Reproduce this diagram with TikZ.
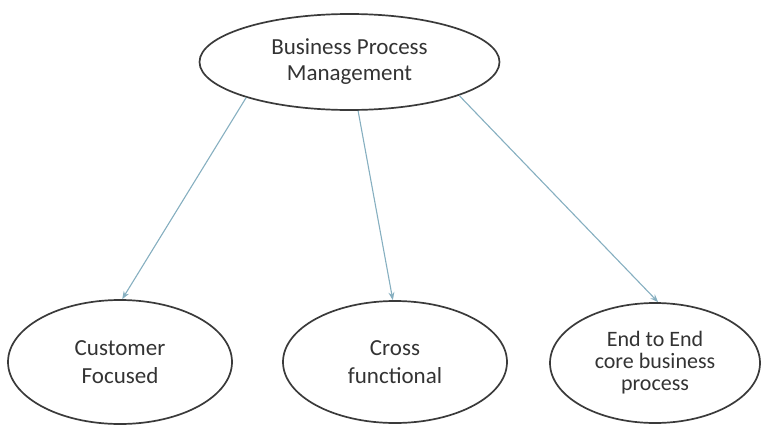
\documentclass[tikz,border=0pt]{standalone}
\usepackage{fontspec}
\setmainfont{Carlito}
\usetikzlibrary{shapes.geometric,arrows.meta}
\definecolor{txt}{HTML}{333333}
\definecolor{conn}{HTML}{86AFC0}
\definecolor{edge}{HTML}{3A3A3A}
\tikzset{
  oval/.style={ellipse, draw=edge, line width=1.7pt, inner sep=0pt, align=center, text=txt},
  link/.style={draw=conn, line width=1.1pt, -{Stealth[length=8pt,width=6pt]}}
}
\begin{document}
\begin{tikzpicture}[x=1pt,y=-1pt]
\useasboundingbox (0,0) rectangle (763,426);
\node[oval, minimum width=300pt, minimum height=96pt, font=\fontsize{23}{26}\selectfont] (bpm) at (349.5,62) {Business Process\\Management};
\node[oval, minimum width=224pt, minimum height=124pt, font=\fontsize{23}{28}\selectfont] (cf) at (120,362) {Customer\\Focused};
\node[oval, minimum width=224pt, minimum height=122pt, font=\fontsize{23}{28}\selectfont] (cr) at (395,362) {Cross\\functional};
\node[oval, minimum width=210pt, minimum height=120pt, font=\fontsize{22}{22}\selectfont] (ee) at (655,363) {End to End\\core business\\process};
\draw[link] (bpm.199) -- (cf.88);
\draw[link] (bpm.280) -- (cr.92);
\draw[link] (bpm.343) -- (ee.87);
\end{tikzpicture}
\end{document}
